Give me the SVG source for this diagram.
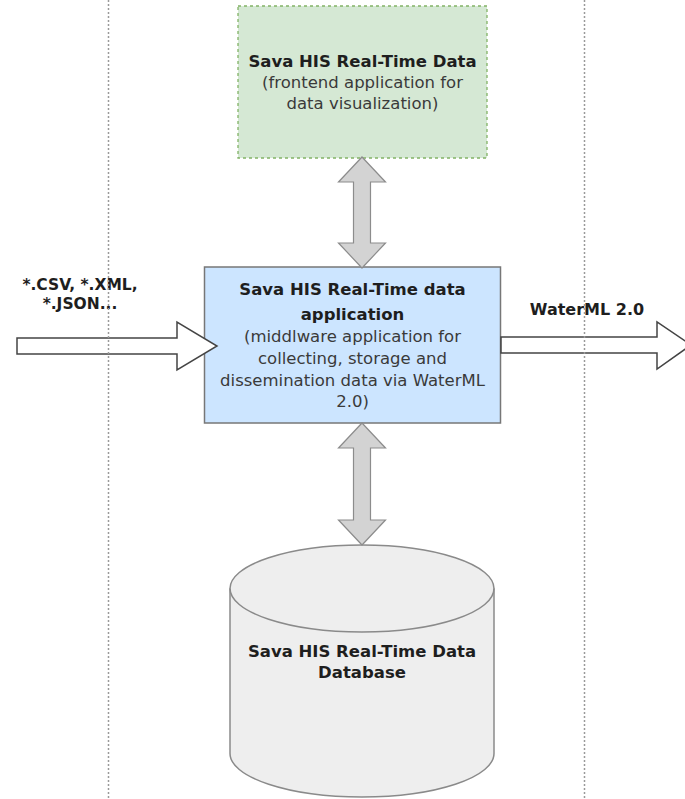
<svg xmlns="http://www.w3.org/2000/svg" width="685" height="799" viewBox="0 0 685 799">
<style>
  .b { font-family: "DejaVu Sans", Verdana, sans-serif; font-weight: bold; font-size: 16.5px; fill: #1e1e1e; text-anchor: middle; }
  .r { font-family: "DejaVu Sans", Verdana, sans-serif; font-size: 16.5px; fill: #3a3a3a; text-anchor: middle; }
  .dbl { fill: #d3d3d3; stroke: #8c8c8c; stroke-width: 1.2; }
  .flow { fill: #ffffff; stroke: #444444; stroke-width: 1.5; }
  .guide { stroke: #9a9a9a; stroke-width: 1.5; stroke-dasharray: 2 2; fill: none; }
</style>
<rect width="685" height="799" fill="#ffffff"/>

<g id="frontend">
  <rect x="238" y="6" width="249" height="152" fill="#d5e8d4" stroke="#82b366" stroke-width="1.3" stroke-dasharray="3 3"/>
  <text class="b" x="362.5" y="67">Sava HIS Real-Time Data</text>
  <text class="r" x="362.5" y="88">(frontend application for</text>
  <text class="r" x="362.5" y="109">data visualization)</text>
</g>

<g id="middleware">
  <rect x="204.5" y="267" width="296" height="156" fill="#cce5ff" stroke="#777777" stroke-width="1.5"/>
  <text class="b" x="352.5" y="295">Sava HIS Real-Time data</text>
  <text class="b" x="352.5" y="320">application</text>
  <text class="r" x="352.5" y="342">(middlware application for</text>
  <text class="r" x="352.5" y="364">collecting, storage and</text>
  <text class="r" x="352.5" y="386">dissemination data via WaterML</text>
  <text class="r" x="352.5" y="407">2.0)</text>
</g>

<g id="database">
  <path d="M230,588.5 L230,753.5 A132,43.5 0 0 0 494,753.5 L494,588.5 A132,43.5 0 0 0 230,588.5 Z" fill="#eeeeee" stroke="#8a8a8a" stroke-width="1.5"/>
  <path d="M230,588.5 A132,43.5 0 0 0 494,588.5" fill="none" stroke="#8a8a8a" stroke-width="1.5"/>
  <text class="b" x="362" y="657">Sava HIS Real-Time Data</text>
  <text class="b" x="362" y="678">Database</text>
</g>

<g id="input-label">
  <text class="b" x="80" y="290" style="font-size:15.5px">*.CSV, *.XML,</text>
  <text class="b" x="80" y="309" style="font-size:15.5px">*.JSON...</text>
</g>

<g id="output-label">
  <text class="b" x="587" y="315" style="font-size:16px">WaterML 2.0</text>
</g>

<g id="connectors">
  <polygon class="dbl" points="362,157 385.5,182 370.5,182 370.5,243 385.5,243 362,268 338.5,243 353.5,243 353.5,182 338.5,182"/>
  <polygon class="dbl" points="362,423 385.5,448 370.5,448 370.5,520 385.5,520 362,545 338.5,520 353.5,520 353.5,448 338.5,448"/>
  <polygon class="flow" points="17,338 177,338 177,322 217,346 177,370 177,354 17,354"/>
  <polygon class="flow" points="501,337 657,337 657,322 691,345 657,369 657,353 501,353"/>
</g>

<g id="guides">
  <line class="guide" x1="108.5" y1="0" x2="108.5" y2="799"/>
  <line class="guide" x1="584.5" y1="0" x2="584.5" y2="799"/>
</g>
</svg>
